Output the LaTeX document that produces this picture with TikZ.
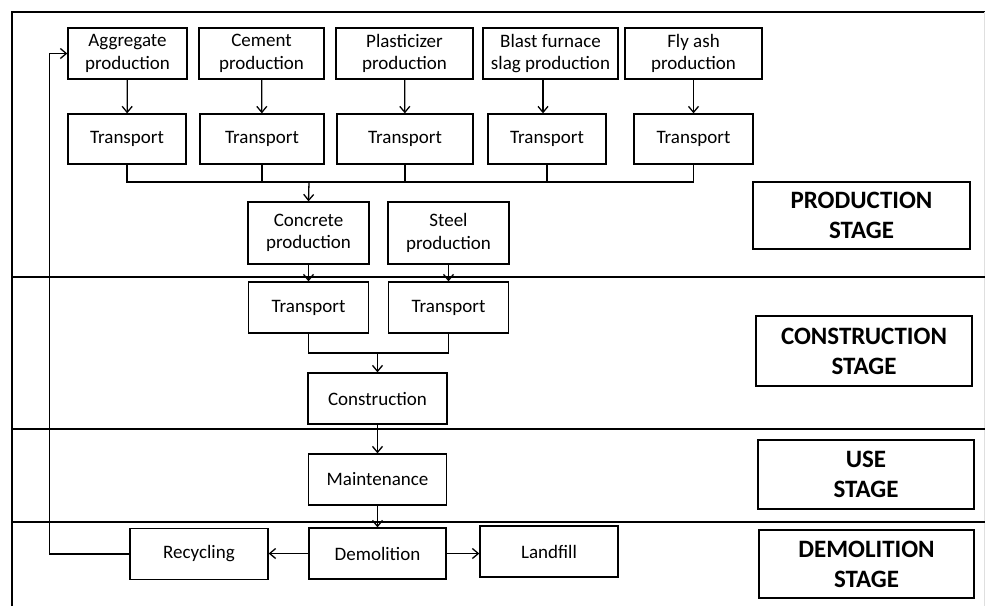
\documentclass[tikz,border=0pt]{standalone}
\usepackage{fontspec}
\setmainfont{Carlito}
\usetikzlibrary{arrows.meta}

\tikzset{
  box/.style={draw, line width=0.65pt, align=center, inner sep=0pt,
    font=\fontsize{9.5}{11.2}\selectfont},
  stagebox/.style={draw, line width=0.65pt, align=center, inner sep=0pt,
    font=\fontsize{12.5}{15}\selectfont\bfseries},
  wh/.style 2 args={minimum width=#1*0.5pt, minimum height=#2*0.5pt},
  link/.style={line width=0.65pt},
  frame/.style={line width=1pt},
  >={Straight Barb[length=3pt,width=5pt]},
}

\begin{document}
\begin{tikzpicture}[x=0.5pt, y=-0.5pt]
      \useasboundingbox (0,0) rectangle (985,606);

      \draw[frame] (12,606) -- (12,12) -- (985,12);
      \draw[gray!25, line width=0.5pt] (984,12) -- (984,606);
      \draw[frame] (12,277) -- (985,277);
      \draw[frame] (12,429) -- (985,429);
      \draw[frame] (12,522) -- (985,522);

      \node[box, wh={119}{51}] (agg) at (127.5,53.5) {Aggregate\\production};
      \node[box, wh={125}{51}] (cem) at (261.5,53.5) {Cement\\production};
      \node[box, wh={137}{51}] (pla) at (404.5,53.5) {Plasticizer\\production};
      \node[box, wh={135}{51}] (bfs) at (550.5,53.5) {Blast furnace\\slag production};
      \node[box, wh={137}{51}] (fly) at (693.5,53.5) {Fly ash\\production};

      \node[box, wh={118}{50}] (t1) at (127,139) {Transport};
      \node[box, wh={124}{50}] (t2) at (262,139) {Transport};
      \node[box, wh={136}{50}] (t3) at (405,139) {Transport};
      \node[box, wh={118}{50}] (t4) at (547,139) {Transport};
      \node[box, wh={119}{50}] (t5) at (693.5,139) {Transport};

      \node[box, wh={121}{62}] (conc) at (308.5,233) {Concrete\\production};
      \node[box, wh={121}{62}] (steel) at (448.5,233) {Steel\\production};

      \node[box, wh={120}{51}] (tc1) at (308.5,307.5) {Transport};
      \node[box, wh={120}{51}] (tc2) at (448.5,307.5) {Transport};
      \node[box, wh={139}{51}] (constr) at (377.5,398.5) {Construction};

      \node[box, wh={138}{51}] (maint) at (377.5,479.5) {Maintenance};

      \node[box, wh={137}{51}] (demol) at (377.5,553.5) {Demolition};
      \node[box, wh={138}{51}] (recyc) at (199,554) {Recycling};
      \node[box, wh={138}{51}] (landf) at (549,551.5) {Landfill};

      \node[stagebox, wh={217}{67}] (sprod) at (861.5,215.5) {PRODUCTION\\STAGE};
      \node[stagebox, wh={216}{70}] (scons) at (864,351) {CONSTRUCTION\\STAGE};
      \node[stagebox, wh={216}{69}] (suse) at (866,474.5) {USE\\STAGE};
      \node[stagebox, wh={215}{68}] (sdem) at (866.5,564) {DEMOLITION\\STAGE};

      \draw[link, ->] (agg) -- (t1);
      \draw[link, ->] (cem) -- (t2);
      \draw[link, ->] (pla) -- (t3);
      \draw[link, ->] (bfs.south -| 543,0) -- (t4.north -| 543,0);
      \draw[link, ->] (fly) -- (t5);

      \coordinate (bus) at (309,182);
      \draw[link] (t1.south) |- (bus) -| (t5.south);
      \draw[link] (t2.south) -- (t2.south |- bus);
      \draw[link] (t3.south) -- (t3.south |- bus);
      \draw[link] (t4.south) -- (t4.south |- bus);
      \draw[link, ->] (bus) -- (conc.north);

      \draw[link, ->] (conc) -- (tc1);
      \draw[link, ->] (steel) -- (tc2);

      \coordinate (join) at (377.5,353);
      \draw[link] (tc1.south) |- (join) -| (tc2.south);
      \draw[link, ->] (join) -- (constr.north);

      \draw[link, ->] (constr) -- (maint);
      \draw[link, ->] (maint) -- (demol);

      \draw[link, ->] (demol.west) -- (demol.west -| recyc.east);
      \draw[link, ->] (demol.east) -- (demol.east -| landf.west);
      \draw[link, ->] (recyc.west) -- ++(-80,0) |- (agg.west);

    \end{tikzpicture}
\end{document}
